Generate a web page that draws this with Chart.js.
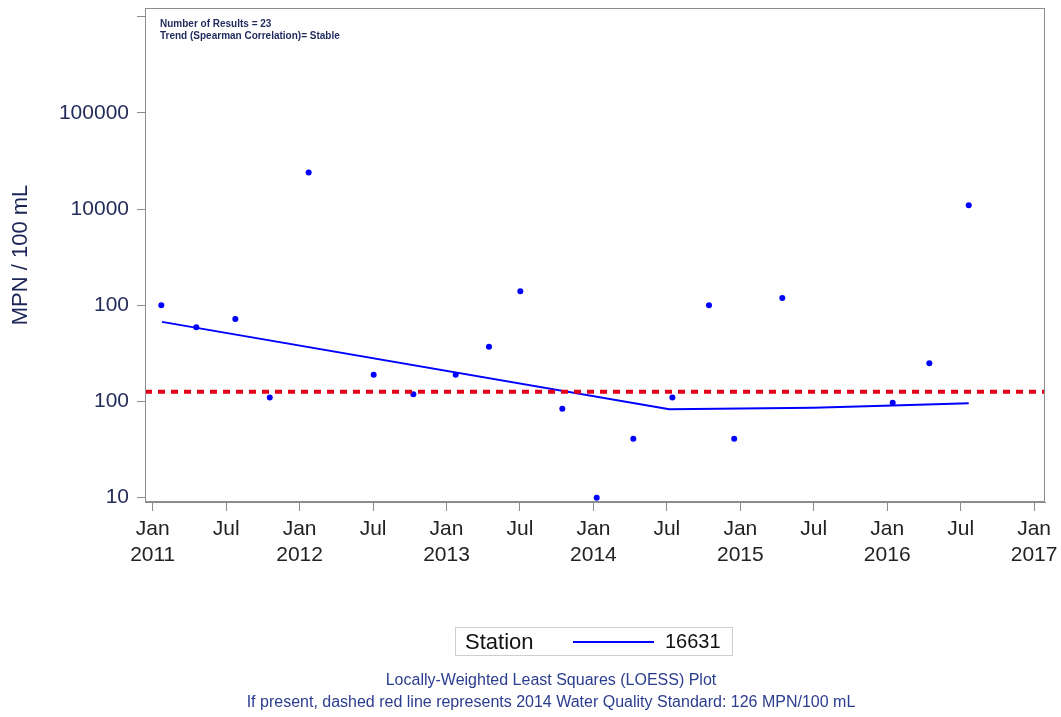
<!DOCTYPE html>
<html>
<head>
<meta charset="utf-8">
<script src="https://cdn.jsdelivr.net/npm/chart.js@4/dist/chart.umd.min.js"></script>
<style>
  body { margin: 0; background: #fff; font-family: "Liberation Sans", Arial, sans-serif; }
  #wrap { position: relative; width: 1061px; height: 717px; }
  #canvas { position: absolute; left: 0; top: 0; }
  .note { position: absolute; left: 160px; font-size: 10px; font-weight: bold; color: #1f2a5c; white-space: nowrap; }
  #legend { position: absolute; left: 455px; top: 627px; width: 276px; height: 27px; border: 1px solid #cfcfcf; }
  #legend .lbl { position: absolute; left: 9px; top: 1px; font-size: 22px; color: #111; }
  #legend .swatch { position: absolute; left: 117px; top: 13px; width: 81px; height: 2px; background: #0000ff; }
  #legend .name { position: absolute; left: 209px; top: 2px; font-size: 20px; color: #111; }
  .foot { position: absolute; left: 0; width: 1102px; text-align: center; font-size: 16px; color: #2b3d8f; white-space: nowrap; }
</style>
</head>
<body>
<div id="wrap">
  <canvas id="canvas" width="1061" height="717"></canvas>
  <div class="note" style="top:18px">Number of Results = 23</div>
  <div class="note" style="top:30px">Trend (Spearman Correlation)= Stable</div>
  <div id="legend"><span class="lbl">Station</span><span class="swatch"></span><span class="name">16631</span></div>
  <div class="foot" style="top:671px">Locally-Weighted Least Squares (LOESS) Plot</div>
  <div class="foot" style="top:693px">If present, dashed red line represents 2014 Water Quality Standard: 126 MPN/100 mL</div>
</div>
<script>
// x values are months since Jan 2011
const sampleMonths = [0.7, 3.56, 6.75, 9.56, 12.74, 18.05, 21.29, 24.75, 27.47, 30.03, 33.46,
                      36.27, 39.26, 42.45, 45.44, 47.5, 51.43, 60.45, 63.44, 66.66];
const sampleValues = [1000, 590, 720, 110, 24000, 190, 119, 190, 370, 1400, 84,
                      10, 41, 110, 1000, 41, 1190, 97, 250, 11000];

const loessMonths = [0.76, 42.2, 53.96, 60.45, 66.66];
const loessValues = [673, 83, 86, 91, 96];

const STANDARD = 126;
const X_MIN = -0.63, X_MAX = 72.89;
const Y_MIN = 9.02, Y_MAX = 1234000;

const xTickMonths = [0, 6, 12, 18, 24, 30, 36, 42, 48, 54, 60, 66, 72];
const xTickLabels = [['Jan', '2011'], 'Jul', ['Jan', '2012'], 'Jul', ['Jan', '2013'], 'Jul',
                     ['Jan', '2014'], 'Jul', ['Jan', '2015'], 'Jul', ['Jan', '2016'], 'Jul', ['Jan', '2017']];
const yTickValues = [10, 100, 1000, 10000, 100000, 1000000];
const yTickLabels = ['10', '100', '100', '10000', '100000', ''];

const frame = {
    id: 'frame',
    afterDraw(c) {
        const a = c.chartArea, ctx = c.ctx;
        ctx.save();
        ctx.strokeStyle = '#8c8c8c';
        ctx.lineWidth = 1;
        ctx.strokeRect(a.left + 0.5, a.top + 0.5, a.right - a.left - 1, a.bottom - a.top - 1);
        ctx.restore();
    }
};

const pts = sampleMonths.map((m, i) => ({ x: m, y: sampleValues[i] }));
const loess = loessMonths.map((m, i) => ({ x: m, y: loessValues[i] }));
const std = [{ x: X_MIN, y: STANDARD }, { x: X_MAX, y: STANDARD }];

new Chart(document.getElementById('canvas').getContext('2d'), {
    type: 'scatter',
    data: {
        datasets: [
            { label: 'standard', data: std, showLine: true, borderColor: '#e3001b', borderWidth: 4,
              borderDash: [7, 6], pointRadius: 0 },
            { label: '16631', data: loess, showLine: true, borderColor: '#0000ff', borderWidth: 2,
              pointRadius: 0, tension: 0 },
            { label: 'samples', data: pts, pointRadius: 3, pointBackgroundColor: '#0000ff',
              pointBorderWidth: 0, showLine: false }
        ]
    },
    plugins: [frame],
    options: {
        responsive: false,
        animation: false,
        devicePixelRatio: 1,
        layout: { padding: { left: 0, top: 8, right: 16, bottom: 0 } },
        plugins: { legend: { display: false }, tooltip: { enabled: false } },
        scales: {
            x: {
                type: 'linear', min: X_MIN, max: X_MAX,
                afterBuildTicks: s => { s.ticks = xTickMonths.map(v => ({ value: v })); },
                afterFit: s => { s.height = 215; s.paddingLeft = 0; s.paddingRight = 0; },
                grid: { drawOnChartArea: false, drawTicks: true, tickLength: 9, color: '#8c8c8c' },
                border: { display: true, color: '#8c8c8c' },
                ticks: {
                    autoSkip: false, maxRotation: 0, padding: 6, color: '#222',
                    font: { family: 'Liberation Sans', size: 21 },
                    callback: (v, i) => xTickLabels[i]
                }
            },
            y: {
                type: 'logarithmic', min: Y_MIN, max: Y_MAX,
                afterBuildTicks: s => { s.ticks = yTickValues.map(v => ({ value: v })); },
                afterFit: s => { s.width = 145; s.paddingTop = 0; s.paddingBottom = 0; },
                grid: { drawOnChartArea: false, drawTicks: true, tickLength: 8, color: '#8c8c8c' },
                border: { display: true, color: '#8c8c8c' },
                title: { display: true, text: 'MPN / 100 mL', color: '#1a2456',
                         font: { family: 'Liberation Sans', size: 22 }, padding: { top: 8, bottom: 0 } },
                ticks: {
                    padding: 8, color: '#252d5c',
                    font: { family: 'Liberation Sans', size: 21 },
                    callback: (v, i) => yTickLabels[i]
                }
            }
        }
    }
});
</script>
</body>
</html>
